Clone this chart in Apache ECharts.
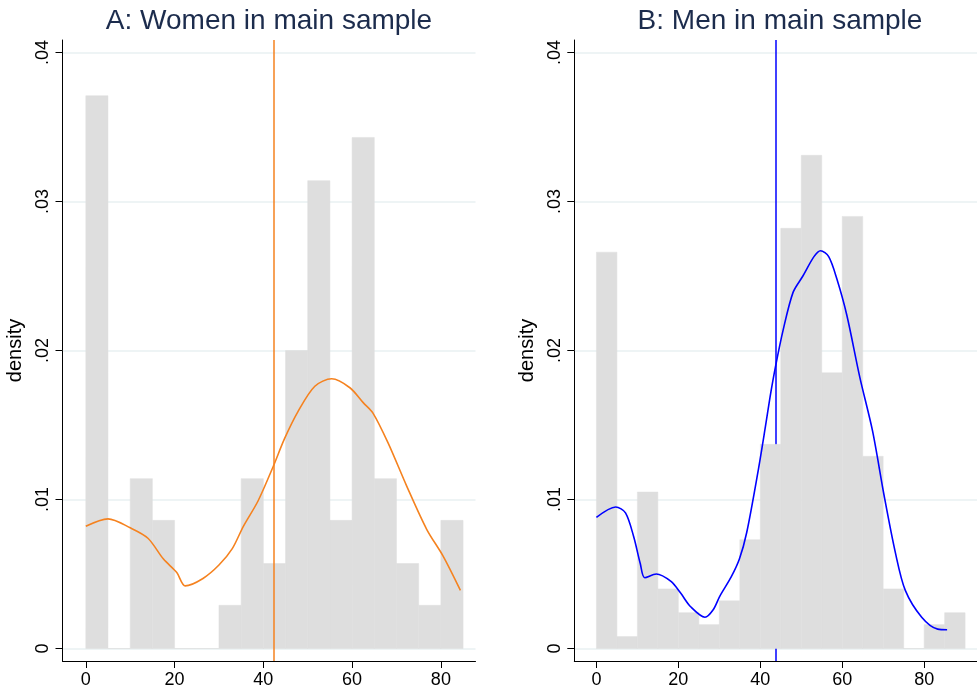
<!DOCTYPE html>
<html><head><meta charset="utf-8">
<script src="https://cdn.jsdelivr.net/npm/echarts@6/dist/echarts.min.js"></script>
<style>html,body{margin:0;padding:0;background:#fff}#c{width:977px;height:692px}</style>
</head><body><div id="c"></div>
<script>
// ---- data ----
const binWidth = 5;
const womenBinStarts = [0,5,10,15,20,25,30,35,40,45,50,55,60,65,70,75,80];
const womenBinDensity = [0.0371,0,0.0114,0.0086,0,0,0.0029,0.0114,0.0057,0.0200,0.0314,0.0086,0.0343,0.0114,0.0057,0.0029,0.0086];
const menBinStarts = [0,5,10,15,20,25,30,35,40,45,50,55,60,65,70,75,80,85];
const menBinDensity = [0.0266,0.0008,0.0105,0.0040,0.0024,0.0016,0.0032,0.0073,0.0137,0.0282,0.0331,0.0185,0.0290,0.0129,0.0040,0,0.0016,0.0024];

const womenKdeX = [0,5,10,14,17.5,20.5,22.4,26.4,30,33,35.5,38.8,42.2,44.8,47.8,51.6,55.4,59.5,62.5,64.7,68.1,72.3,76.8,80.5,84.4];
const womenKdeY = [0.0082,0.0087,0.0081,0.0074,0.0060,0.0051,0.0042,0.0047,0.0056,0.0067,0.0082,0.0099,0.0122,0.0141,0.0159,0.0176,0.0181,0.0175,0.0165,0.0158,0.0138,0.0109,0.0080,0.0062,0.0039];
const menKdeX = [0,4.7,7.1,9.1,10.7,11.8,14.6,18.2,20.6,23,26.5,28.5,30.1,32.9,34.9,36.7,39.4,41.2,42.4,43.7,45.6,48.0,50.4,53.1,54.7,56.7,58.7,61.1,64.3,67.4,70.2,73.0,75.4,79.4,83.3,85.6];
const menKdeY = [0.0088,0.0095,0.0091,0.0075,0.0057,0.00475,0.0050,0.0045,0.0037,0.0028,0.0021,0.0026,0.0035,0.0048,0.0060,0.0078,0.0118,0.0148,0.0169,0.0189,0.0214,0.0239,0.0250,0.0263,0.0267,0.0263,0.0248,0.0224,0.0182,0.0146,0.0103,0.0064,0.0039,0.0021,0.0013,0.00126];

const womenMean = 42.3;
const menMean = 43.7;

const yTickValues = [0,0.01,0.02,0.03,0.04];
const yTickLabels = ['0','.01','.02','.03','.04'];
const xTickValues = [0,20,40,60,80];
const xTickLabels = ['0','20','40','60','80'];
const titles = ['A: Women in main sample','B: Men in main sample'];

// ---- chart ----
const FONT = 'Liberation Sans, Arial, Helvetica, sans-serif';
const barColor = '#dedede';
const gridColor = '#e9f0f2';

function yLabel(v){
  const i = yTickValues.findIndex(t => Math.abs(t - v) < 1e-9);
  return i >= 0 ? yTickLabels[i] : '';
}
function xLabel(v){
  const i = xTickValues.findIndex(t => Math.abs(t - v) < 1e-9);
  return i >= 0 ? xTickLabels[i] : '';
}
function makeX(gi, min, max){
  return {gridIndex: gi, type:'value', min:min, max:max,
    axisLine:{show:true, onZero:false, lineStyle:{color:'#000', width:1}},
    axisTick:{show:true, length:7, customValues:xTickValues, lineStyle:{color:'#000'}},
    axisLabel:{customValues:xTickValues, formatter:xLabel, fontSize:18, color:'#000', margin:10, fontFamily:FONT},
    splitLine:{show:false}};
}
function makeY(gi){
  return {gridIndex: gi, type:'value', min:-0.00084, max:0.04084,
    axisLine:{show:true, onZero:false, lineStyle:{color:'#000', width:1}},
    axisTick:{show:true, length:7, customValues:yTickValues, lineStyle:{color:'#000'}},
    axisLabel:{customValues:yTickValues, formatter:yLabel, rotate:90, fontSize:18, color:'#000', margin:10, fontFamily:FONT},
    splitLine:{show:true, lineStyle:{color:gridColor, width:1.5}},
    name:'density', nameLocation:'middle', nameRotate:90, nameGap:37,
    nameTextStyle:{fontSize:20, color:'#000', fontFamily:FONT}};
}
function barSeries(gi, starts, dens, z){
  return {type:'custom', xAxisIndex:gi, yAxisIndex:gi, z:z, silent:true,
    data: starts.map((s,i) => [s, s + binWidth, dens[i]]),
    encode:{x:[0,1], y:2},
    renderItem:function(params, api){
      const p0 = api.coord([api.value(0), api.value(2)]);
      const p1 = api.coord([api.value(1), 0]);
      return {type:'rect', shape:{x:p0[0], y:p0[1], width:p1[0]-p0[0], height:p1[1]-p0[1]},
        style:{fill:barColor, stroke:barColor, lineWidth:0.5}};
    }};
}
function kdeSeries(gi, xs, ys, color){
  return {type:'line', xAxisIndex:gi, yAxisIndex:gi, z:5, silent:true,
    data: xs.map((x,i) => [x, ys[i]]), showSymbol:false, smooth:0.3,
    lineStyle:{color:color, width:1.6}};
}
function meanSeries(gi, m, color, z){
  return {type:'line', xAxisIndex:gi, yAxisIndex:gi, z:z, data:[], silent:true,
    markLine:{z:z, symbol:['none','none'], silent:true, animation:false, label:{show:false},
      lineStyle:{color:color, width:1.5, type:'solid'}, data:[{xAxis:m}]}};
}

const chart = echarts.init(document.getElementById('c'), null, {renderer:'canvas'});
chart.setOption({
  animation:false,
  backgroundColor:'#fff',
  title:[
    {text:titles[0], left:269, top:7, padding:0, textAlign:'center', textStyle:{fontSize:28, fontWeight:'normal', color:'#1c2c4d', fontFamily:FONT}},
    {text:titles[1], left:780, top:7, padding:0, textAlign:'center', textStyle:{fontSize:28, fontWeight:'normal', color:'#1c2c4d', fontFamily:FONT}}
  ],
  grid:[
    {left:62.5, top:40, width:413, height:621},
    {left:574.3, top:40, width:413, height:621}
  ],
  xAxis:[makeX(0, -5.25, 87.8), makeX(1, -5.4, 92.9)],
  yAxis:[makeY(0), makeY(1)],
  series:[
    barSeries(0, womenBinStarts, womenBinDensity, 1),
    meanSeries(0, womenMean, '#f5821f', 3),
    kdeSeries(0, womenKdeX, womenKdeY, '#f5821f'),
    meanSeries(1, menMean, '#0000ff', 1),
    barSeries(1, menBinStarts, menBinDensity, 2),
    kdeSeries(1, menKdeX, menKdeY, '#0000ff')
  ]
});
</script>
</body></html>
